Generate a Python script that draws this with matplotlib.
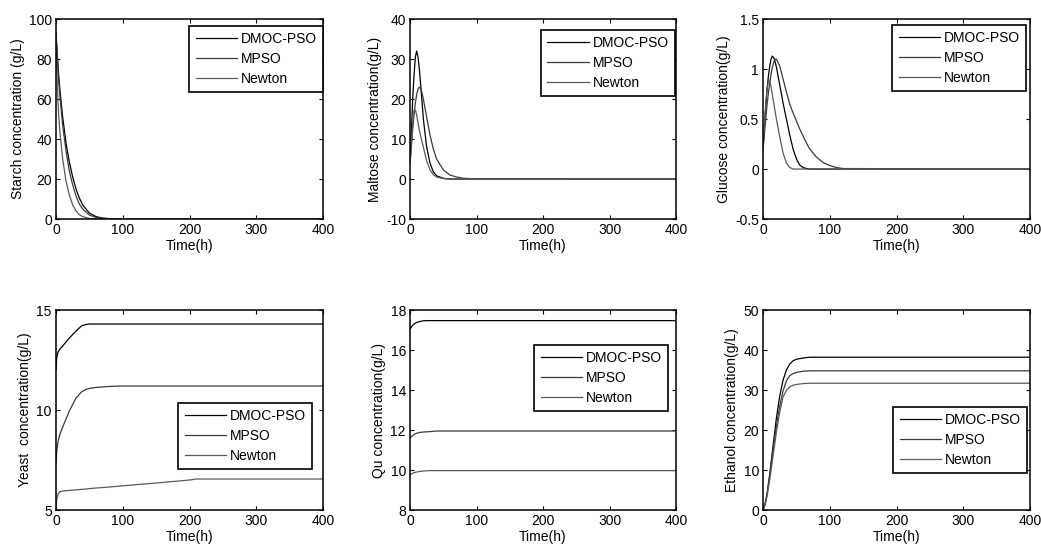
import matplotlib
matplotlib.use('Agg')
from matplotlib import pyplot as plt

plt.rcParams['font.family'] = ['Liberation Sans', 'DejaVu Sans']
plt.rcParams['font.size'] = 10

methods = ['DMOC-PSO', 'MPSO', 'Newton']
line_colors = ['#000000', '#3a3a3a', '#5a5a5a']

# starch
t_starch = [0, 2, 4, 6, 10, 15, 20, 25, 30, 35, 40, 50, 60, 70, 80, 100, 400]
starch_dmoc = [93, 82, 72, 64, 51, 38, 28.5, 21, 15, 10.5, 7, 3, 1.2, 0.5, 0.2, 0, 0]
starch_mpso = [93, 80, 69, 61, 47, 34, 24, 17, 11.5, 7.5, 5, 2, 0.8, 0.3, 0.1, 0, 0]
starch_newton = [93, 66, 52, 43, 30, 19, 12, 7, 4, 2.2, 1.2, 0.3, 0.05, 0, 0, 0, 0]

# maltose
t_maltose = [0, 2, 4, 6, 8, 10, 12, 14, 17, 20, 25, 30, 35, 40, 50, 60, 70, 80, 100, 400]
maltose_dmoc = [4, 12, 20, 26, 30.5, 32, 30.5, 27.5, 21.5, 15, 8, 4, 1.8, 0.8, 0.2, 0, 0, 0, 0, 0]
maltose_mpso = [4, 8, 12.5, 16, 19, 21.2, 22.5, 23, 22.3, 20, 15.5, 11, 7.5, 5, 2.3, 1, 0.5, 0.2, 0.05, 0]
maltose_newton = [4, 9, 14, 17.2, 17.2, 16, 14, 12.2, 10, 8, 4.5, 2.3, 1.1, 0.5, 0.1, 0, 0, 0, 0, 0]

# glucose
t_glucose = [0, 2, 4, 6, 8, 10, 12, 14, 17, 20, 25, 30, 35, 40, 45, 50, 55, 60, 65, 70, 80, 90, 100, 110, 120, 400]
glucose_dmoc = [0.2, 0.42, 0.62, 0.8, 0.93, 1.03, 1.1, 1.13, 1.1, 1.02, 0.84, 0.66, 0.5, 0.34, 0.2, 0.1,
                0.04, 0.015, 0.005, 0, 0, 0, 0, 0, 0, 0]
glucose_mpso = [0.2, 0.35, 0.5, 0.64, 0.76, 0.86, 0.95, 1.02, 1.09, 1.1, 1.03, 0.9, 0.77, 0.65, 0.56, 0.48,
                0.4, 0.33, 0.26, 0.2, 0.12, 0.065, 0.035, 0.015, 0.005, 0]
glucose_newton = [0.2, 0.45, 0.65, 0.8, 0.88, 0.89, 0.82, 0.74, 0.62, 0.5, 0.32, 0.16, 0.06, 0.015, 0, 0,
                  0, 0, 0, 0, 0, 0, 0, 0, 0, 0]

# yeast
t_yeast = [0, 1, 3, 6, 10, 20, 30, 38, 45, 50, 60, 80, 100, 150, 200, 210, 400]
yeast_dmoc = [12.0, 12.6, 12.9, 13.05, 13.2, 13.6, 13.95, 14.2, 14.28, 14.3, 14.3, 14.3, 14.3, 14.3, 14.3, 14.3, 14.3]
yeast_mpso = [7.3, 7.9, 8.4, 8.8, 9.15, 9.95, 10.6, 10.9, 11.03, 11.08, 11.13, 11.18, 11.2, 11.2, 11.2, 11.2, 11.2]
yeast_newton = [5.0, 5.5, 5.8, 5.92, 5.95, 5.98, 6.01, 6.03, 6.05, 6.07, 6.1, 6.15, 6.21, 6.35, 6.5, 6.55, 6.55]

# qu
t_qu = [0, 3, 6, 10, 15, 20, 25, 30, 40, 400]
qu_dmoc = [17.05, 17.2, 17.3, 17.38, 17.43, 17.46, 17.47, 17.47, 17.47, 17.47]
qu_mpso = [11.6, 11.7, 11.78, 11.84, 11.88, 11.9, 11.91, 11.92, 11.95, 11.95]
qu_newton = [9.75, 9.82, 9.87, 9.9, 9.93, 9.95, 9.96, 9.97, 9.97, 9.97]

# ethanol
t_ethanol = [0, 3, 6, 10, 15, 20, 25, 30, 35, 40, 45, 50, 60, 70, 400]
ethanol_dmoc = [0, 1.5, 4, 9, 16, 23, 28.5, 32.5, 35, 36.5, 37.3, 37.7, 38.0, 38.2, 38.2]
ethanol_mpso = [0, 1.5, 4, 8.5, 15, 21, 26, 29.8, 32.3, 33.6, 34.1, 34.4, 34.7, 34.8, 34.8]
ethanol_newton = [0, 1.2, 3.5, 7.5, 13.5, 19.5, 24.5, 28.3, 29.9, 30.8, 31.2, 31.4, 31.6, 31.7, 31.7]

# ylabel, t, series, ylim, yticks, legend upper-right anchor (axes fraction), axes rect
panels = [
    ('Starch concentration (g/L)', t_starch, [starch_dmoc, starch_mpso, starch_newton],
     (0, 100), [0, 20, 40, 60, 80, 100], (1.0, 0.965), [0.0538, 0.601, 0.2565, 0.3643]),
    ('Maltose concentration(g/L)', t_maltose, [maltose_dmoc, maltose_mpso, maltose_newton],
     (-10, 40), [-10, 0, 10, 20, 30, 40], (0.996, 0.945), [0.3939, 0.601, 0.2555, 0.3643]),
    ('Glucose concentration(g/L)', t_glucose, [glucose_dmoc, glucose_mpso, glucose_newton],
     (-0.5, 1.5), [-0.5, 0, 0.5, 1, 1.5], (0.985, 0.97), [0.733, 0.601, 0.2565, 0.3643]),
    ('Yeast  concentration(g/L)', t_yeast, [yeast_dmoc, yeast_mpso, yeast_newton],
     (5, 15), [5, 10, 15], (0.959, 0.535), [0.0538, 0.071, 0.2565, 0.3643]),
    ('Qu concentration(g/L)', t_qu, [qu_dmoc, qu_mpso, qu_newton],
     (8, 18), [8, 10, 12, 14, 16, 18], (0.970, 0.825), [0.3939, 0.071, 0.2555, 0.3643]),
    ('Ethanol concentration(g/L)', t_ethanol, [ethanol_dmoc, ethanol_mpso, ethanol_newton],
     (0, 50), [0, 10, 20, 30, 40, 50], (0.989, 0.515), [0.733, 0.071, 0.2565, 0.3643]),
]

fig = plt.figure(figsize=(10.41, 5.49), dpi=100)

for ylabel, t, series, ylim, yticks, anchor, rect in panels:
    ax = fig.add_axes(rect)
    for vals, name, col in zip(series, methods, line_colors):
        ax.plot(t, vals, color=col, lw=0.9, label=name)
    ax.set_xlim(0, 400)
    ax.set_ylim(*ylim)
    ax.set_xticks([0, 100, 200, 300, 400])
    ax.set_yticks(yticks)
    ax.set_yticklabels(['%g' % v for v in yticks])
    ax.tick_params(direction='in', top=True, right=True, length=3, width=0.8, labelsize=10, pad=3)
    for sp in ax.spines.values():
        sp.set_linewidth(1.1)
    ax.set_xlabel('Time(h)', fontsize=10, labelpad=1)
    ax.set_ylabel(ylabel, fontsize=10, labelpad=3)
    leg = ax.legend(loc='upper right', bbox_to_anchor=anchor, fancybox=False, framealpha=1,
                    edgecolor='black', fontsize=10, handlelength=3.0, labelspacing=0.42,
                    borderpad=0.45, handletextpad=0.25, borderaxespad=0)
    leg.get_frame().set_linewidth(1.2)

fig.savefig('out.png', dpi=100)
